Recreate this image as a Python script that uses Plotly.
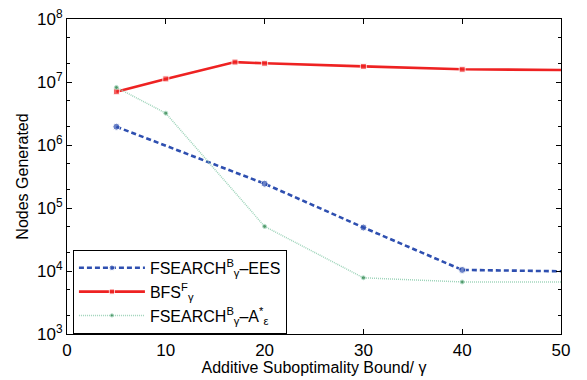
import plotly.graph_objects as go

# Data
x_ees = [5, 20, 30, 40, 50]
y_ees = [1.95e6, 2.43e5, 4.9e4, 1.04e4, 9.9e3]

x_bfs = [5, 10, 17, 20, 30, 40, 50]
y_bfs = [7.0e6, 1.12e7, 2.07e7, 1.98e7, 1.77e7, 1.59e7, 1.55e7]

x_astar = [5, 10, 20, 30, 40, 50]
y_astar = [8.2e6, 3.2e6, 5.1e4, 7.8e3, 6.7e3, 6.7e3]

name_ees = "FSEARCH<sup>B</sup><sub>γ</sub>–EES"
name_bfs = "BFS<sup>F</sup><sub>γ</sub>"
name_astar = "FSEARCH<sup>B</sup><sub>γ</sub>–A<sup>*</sup><sub>ε</sub>"

y_tickvals = [1e3, 1e4, 1e5, 1e6, 1e7, 1e8]
y_ticktext = ["10<sup>3</sup>", "10<sup>4</sup>", "10<sup>5</sup>", "10<sup>6</sup>", "10<sup>7</sup>", "10<sup>8</sup>"]
x_tickvals = [0, 10, 20, 30, 40, 50]

FONT = "Liberation Sans, Arial, sans-serif"


def sizes(xs, s):
    return [s if x < 50 else 0 for x in xs]


fig = go.Figure()
fig.add_trace(go.Scatter(
    x=x_ees, y=y_ees, name=name_ees, mode="lines+markers",
    line=dict(color="#2E4FB0", width=2.6, dash="5px,3px"),
    marker=dict(color="#2E4FB0", size=sizes(x_ees, 7), symbol="circle"),
))
fig.add_trace(go.Scatter(
    x=x_bfs, y=y_bfs, name=name_bfs, mode="lines+markers",
    line=dict(color="#EE2222", width=2.6),
    marker=dict(color="#EE2222", size=sizes(x_bfs, 6), symbol="square"),
))
fig.add_trace(go.Scatter(
    x=x_astar, y=y_astar, name=name_astar, mode="lines+markers",
    line=dict(color="#9ED4BA", width=1.5, dash="1px,1px"),
    marker=dict(color="#1E7A3C", size=sizes(x_astar, 4), symbol="circle"),
))

axis_common = dict(
    showline=True, linecolor="black", linewidth=1.2, mirror="ticks",
    ticks="inside", tickcolor="black", ticklen=5, showgrid=False, zeroline=False,
    automargin=False,
    tickfont=dict(family=FONT, size=17, color="black"),
)

fig.update_xaxes(
    range=[0, 50], tickvals=x_tickvals,
    title=dict(text="Additive Suboptimality Bound/ γ", standoff=2,
               font=dict(family=FONT, size=16, color="black")),
    **axis_common,
)
fig.update_yaxes(
    type="log", range=[3, 8], tickvals=y_tickvals, ticktext=y_ticktext,
    title=dict(text="Nodes Generated", standoff=4,
               font=dict(family=FONT, size=16, color="black")),
    minor=dict(ticks="inside", ticklen=2.5, tickcolor="black", showgrid=False),
    **axis_common,
)

fig.update_layout(
    width=587, height=380,
    margin=dict(l=67, r=26, t=19, b=46),
    paper_bgcolor="white", plot_bgcolor="white",
    font=dict(family=FONT, size=16, color="black"),
    legend=dict(
        x=0.012, y=0.267, xanchor="left", yanchor="top",
        bgcolor="white", bordercolor="black", borderwidth=1,
        font=dict(size=16), itemwidth=66, tracegroupgap=0,
        entrywidth=220, entrywidthmode="pixels",
    ),
)

fig.write_html(
    "out.html",
    config={"displayModeBar": False},
    post_script="document.body.style.margin='0';document.body.style.overflow='hidden';",
)
